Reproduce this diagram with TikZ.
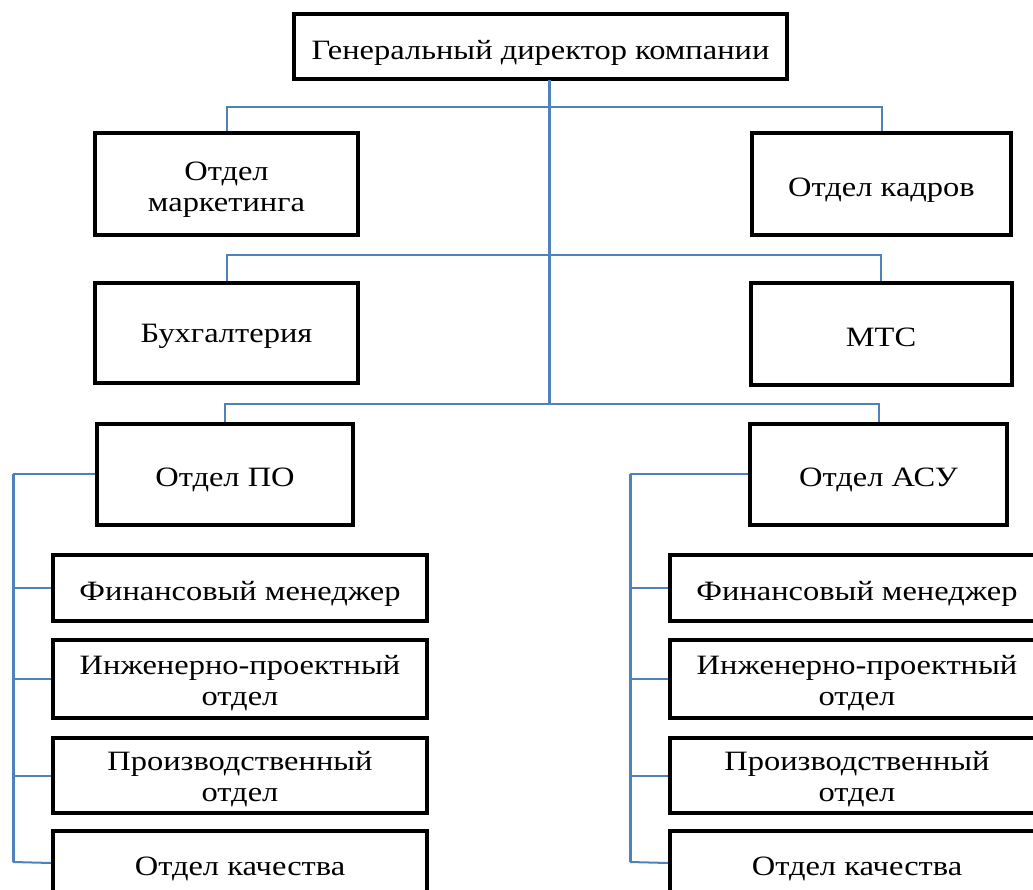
\documentclass[tikz,border=0pt]{standalone}
\usepackage{fontspec}
\setmainfont[FakeStretch=1.16]{Liberation Serif}
\begin{document}
\begin{tikzpicture}[x=1pt,y=-1pt,
  box/.style={draw=black,line width=4pt,fill=white,inner sep=0pt},
  txt/.style={font=\fontsize{28}{31}\selectfont,text=black,align=center,inner sep=0pt,yshift=-6pt},
  link/.style={draw=linkblue,line width=2pt},
  trunk/.style={draw=linkblue,line width=3pt}]
\definecolor{linkblue}{HTML}{4F81BD}
\useasboundingbox (0,0) rectangle (1033,890);
\clip (0,0) rectangle (1033,890);
% trunk coordinates
\coordinate (t0) at (549,80);
\coordinate (t1) at (549,107);
\coordinate (t2) at (549,255);
\coordinate (t3) at (549,404);
\coordinate (lbus) at (13,474);
\coordinate (rbus) at (630,474);
\coordinate (lend) at (13,862);
\coordinate (rend) at (630,862);
% boxes
\node[box,minimum width=493pt,minimum height=65pt,label={[txt]center:Генеральный директор компании}] (gd) at (540.5,47) {};
\node[box,minimum width=263pt,minimum height=102pt,label={[txt]center:Отдел\\маркетинга}] (mk) at (226.5,184) {};
\node[box,minimum width=259pt,minimum height=102pt,label={[txt]center:Отдел кадров}] (kd) at (881.5,184.5) {};
\node[box,minimum width=263pt,minimum height=100pt,label={[txt,yshift=3pt]center:Бухгалтерия}] (bh) at (226.5,333) {};
\node[box,minimum width=261pt,minimum height=101pt,label={[txt,yshift=3pt]center:МТС}] (mtc) at (881,334) {};
\node[box,minimum width=256pt,minimum height=101pt,label={[txt]center:Отдел ПО}] (po) at (225,474) {};
\node[box,minimum width=257pt,minimum height=101pt,label={[txt]center:Отдел АСУ}] (asu) at (878.5,474) {};
% left column
\node[box,minimum width=374pt,minimum height=66pt,label={[txt]center:Финансовый менеджер}] (lf) at (240,588) {};
\node[box,minimum width=374pt,minimum height=78pt,label={[txt,yshift=2pt]center:Инженерно-проектный\\отдел}] (li) at (240,679) {};
\node[box,minimum width=374pt,minimum height=75pt,label={[txt,yshift=2pt]center:Производственный\\отдел}] (lp) at (240,775.5) {};
\node[box,minimum width=374pt,minimum height=64pt,label={[txt]center:Отдел качества}] (lq) at (240,863) {};
% right column
\node[box,minimum width=374pt,minimum height=66pt,label={[txt]center:Финансовый менеджер}] (rf) at (857,588) {};
\node[box,minimum width=374pt,minimum height=78pt,label={[txt,yshift=2pt]center:Инженерно-проектный\\отдел}] (ri) at (857,679) {};
\node[box,minimum width=374pt,minimum height=75pt,label={[txt,yshift=2pt]center:Производственный\\отдел}] (rp) at (857,775.5) {};
\node[box,minimum width=374pt,minimum height=64pt,label={[txt]center:Отдел качества}] (rq) at (857,863) {};
% connectors
\draw[link] (mk.north) |- (t1) -| (kd.north);
\draw[link] (bh.north) |- (t2) -| (mtc.north);
\draw[link] (po.north) |- (t3) -| (asu.north);
\draw[trunk] (t0) -- (t3);
\draw[link] (po.west) -- (lbus);
\draw[link] (lbus |- lf.west) -- (lf.west);
\draw[link] (lbus |- li.west) -- (li.west);
\draw[link] (lbus |- lp.west) -- (lp.west);
\draw[link] (lend) -- (lq.west);
\draw[trunk] (lbus) -- (lend);
\draw[link] (asu.west) -- (rbus);
\draw[link] (rbus |- rf.west) -- (rf.west);
\draw[link] (rbus |- ri.west) -- (ri.west);
\draw[link] (rbus |- rp.west) -- (rp.west);
\draw[link] (rend) -- (rq.west);
\draw[trunk] (rbus) -- (rend);
\end{tikzpicture}
\end{document}
